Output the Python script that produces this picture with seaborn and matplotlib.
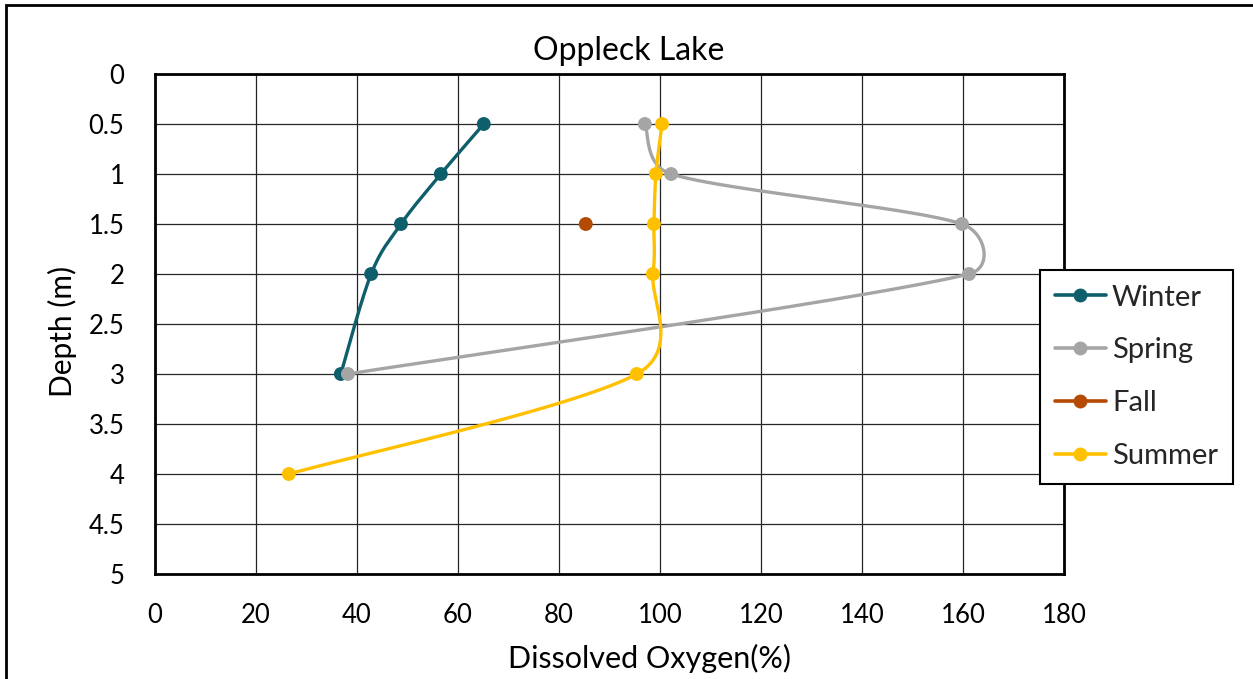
import numpy as np
import pandas as pd
import matplotlib
matplotlib.use("Agg")
import matplotlib.pyplot as plt
import seaborn as sns
from matplotlib.lines import Line2D
from matplotlib.patches import Rectangle

# Dissolved oxygen profiles (% saturation) by depth (m)
winter_depth = [0.5, 1.0, 1.5, 2.0, 3.0]
winter_do = [65.1, 56.6, 48.7, 42.8, 36.8]

spring_depth = [0.5, 1.0, 1.5, 2.0, 3.0]
spring_do = [97.0, 102.2, 159.8, 161.2, 38.2]

fall_depth = [1.5]
fall_do = [85.3]

summer_depth = [0.5, 1.0, 1.5, 2.0, 3.0, 4.0]
summer_do = [100.4, 99.2, 98.8, 98.6, 95.4, 26.5]

series = [
    ("Winter", winter_do, winter_depth, "#0E5F6B"),
    ("Spring", spring_do, spring_depth, "#A5A5A5"),
    ("Fall", fall_do, fall_depth, "#B54A03"),
    ("Summer", summer_do, summer_depth, "#FFC000"),
]

x_ticks = list(range(0, 181, 20))
y_ticks = [0, 0.5, 1, 1.5, 2, 2.5, 3, 3.5, 4, 4.5, 5]
y_tick_labels = ["0", "0.5", "1", "1.5", "2", "2.5", "3", "3.5", "4", "4.5", "5"]

XMAX, YMAX = 180, 5


def smooth_curve(xs, ys, sx, sy, n=50):
    """Bezier smoothing in screen proportions; control arms are 1/6 of the
    neighbour chord, capped at half the segment length."""
    pts = np.column_stack([np.asarray(xs, float) * sx, np.asarray(ys, float) * sy])
    if len(pts) < 2:
        return np.asarray(xs, float), np.asarray(ys, float)
    out = []
    t = np.linspace(0, 1, n)[:, None]
    for i in range(len(pts) - 1):
        p0 = pts[i - 1] if i > 0 else pts[i]
        p1, p2 = pts[i], pts[i + 1]
        p3 = pts[i + 2] if i + 2 < len(pts) else pts[i + 1]
        seg_len = np.linalg.norm(p2 - p1)
        a1 = (p2 - p0) / 6.0
        a2 = (p3 - p1) / 6.0
        for a in (a1, a2):
            la = np.linalg.norm(a)
            if la > seg_len / 2 and la > 0:
                a *= (seg_len / 2) / la
        c1 = p1 + a1
        c2 = p2 - a2
        seg = ((1 - t) ** 3) * p1 + 3 * ((1 - t) ** 2) * t * c1 + 3 * (1 - t) * t ** 2 * c2 + t ** 3 * p2
        out.append(seg if i == 0 else seg[1:])
    curve = np.vstack(out)
    return curve[:, 0] / sx, curve[:, 1] / sy


sns.set_theme(style="white")
plt.rcParams["font.family"] = ["Lato", "DejaVu Sans"]

W, H = 1253, 679
fig = plt.figure(figsize=(W / 100, H / 100), dpi=100)
ax = fig.add_axes([155 / W, 1 - 574 / H, (1064 - 155) / W, (574 - 74) / H])

# screen scale factors (px per data unit)
sx = (1064 - 155) / XMAX
sy = (574 - 74) / YMAX

for name, xs, ys, col in series:
    if len(xs) > 1:
        cx, cy = smooth_curve(xs, ys, sx, sy)
        sns.lineplot(x=cx, y=cy, sort=False, estimator=None, color=col, lw=2.4, ax=ax, zorder=3)
    sns.scatterplot(x=xs, y=ys, color=col, s=100, edgecolor="none", ax=ax, zorder=4)

ax.set_xlim(0, XMAX)
ax.set_ylim(YMAX, 0)
ax.set_xticks(x_ticks)
ax.set_yticks(y_ticks)
ax.set_yticklabels(y_tick_labels)
ax.tick_params(axis="both", length=0, labelsize=18.5, colors="black")
ax.tick_params(axis="x", pad=21)
ax.tick_params(axis="y", pad=22)
ax.grid(True, color="#262626", lw=0.9)
for sp in ax.spines.values():
    sp.set_color("black")
    sp.set_linewidth(2)

# title and axis titles, placed in figure pixels
fig.text(629 / W, 1 - 51 / H, "Oppleck Lake", fontsize=23, color="black",
         ha="center", va="center")
fig.text(649 / W, 1 - 658 / H, "Dissolved Oxygen(%)", fontsize=22, color="black",
         ha="center", va="center")
fig.text(62 / W, 1 - 331 / H, "Depth (m)", fontsize=21.5, color="black",
         ha="center", va="center", rotation=90)

handles = [
    Line2D([0], [0], color=col, lw=2.6, marker="o", markersize=10, markeredgewidth=0)
    for _, _, _, col in series
]
labels = [name for name, _, _, _ in series]
leg = fig.legend(
    handles, labels,
    loc="upper left", bbox_to_anchor=(1040 / W, 1 - 270 / H),
    frameon=True, fancybox=False, fontsize=21, borderaxespad=0,
    labelspacing=0.92, handlelength=1.75, handletextpad=0.22, borderpad=0.5,
)
leg.get_frame().set_edgecolor("black")
leg.get_frame().set_linewidth(1.5)
leg.get_frame().set_facecolor("white")
leg.get_frame().set_alpha(1)

# chart border
fig.add_artist(Rectangle((6 / W, -0.2), 1.5, 0.2 + 1 - 5 / H, transform=fig.transFigure,
                         fill=False, edgecolor="black", lw=2, clip_on=False))

fig.savefig("out.png", dpi=100)
